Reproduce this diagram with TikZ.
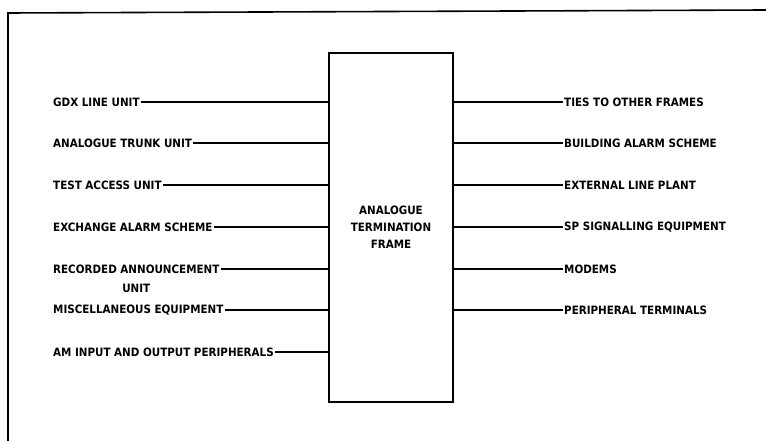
\documentclass[tikz,border=0pt]{standalone}
\usepackage{fontspec}
\setmainfont{DejaVu Sans Condensed}
\usetikzlibrary{positioning}
\tikzset{
  lbl/.style={inner sep=1pt, font=\fontsize{11.5}{14}\selectfont\bfseries},
  lead/.style={line width=1.2pt},
}
\begin{document}
\begin{tikzpicture}[x=1pt,y=-1pt]
        \useasboundingbox (0,0) rectangle (766,441);
        % outer frame, open at right and bottom
        \draw [line width=1.6pt] (8,441) -- (8,13) -- (766,10);
        \node [draw, line width=1.4pt, minimum width=124pt, minimum height=349pt, inner sep=0pt] (atf) at (391,227.5) {};
        \node [lbl, align=center, font=\fontsize{11.5}{17}\selectfont\bfseries] (atftxt) at (atf.center) {ANALOGUE\\TERMINATION\\FRAME};
        % left side
        \node [lbl, anchor=west] (gdx) at (52,102) {GDX LINE UNIT};
        \node [lbl, anchor=west] (atu) at (52,143) {ANALOGUE TRUNK UNIT};
        \node [lbl, anchor=west] (tau) at (52,185) {TEST ACCESS UNIT};
        \node [lbl, anchor=west] (eas) at (52,227) {EXCHANGE ALARM SCHEME};
        \node [lbl, anchor=west] (rau) at (52,269) {RECORDED ANNOUNCEMENT};
        \node [lbl, below=8pt of rau] (rau2) {UNIT};
        \node [lbl, anchor=west] (mse) at (52,310) {MISCELLANEOUS EQUIPMENT};
        \node [lbl, anchor=west] (amp) at (52,352) {AM INPUT AND OUTPUT PERIPHERALS};
        \foreach \n in {gdx,atu,tau,eas,rau,mse,amp}
          \draw [lead] (\n.east) -- (\n.east -| atf.west);
        % right side
        \node [lbl, anchor=west] (tof) at (563,102) {TIES TO OTHER FRAMES};
        \node [lbl, anchor=west] (bas) at (563,143) {BUILDING ALARM SCHEME};
        \node [lbl, anchor=west] (elp) at (563,185) {EXTERNAL LINE PLANT};
        \node [lbl, anchor=west] (spe) at (563,227) {SP SIGNALLING EQUIPMENT};
        \node [lbl, anchor=west] (mod) at (563,269) {MODEMS};
        \node [lbl, anchor=west] (pte) at (563,310) {PERIPHERAL TERMINALS};
        \foreach \n in {tof,bas,elp,spe,mod,pte}
          \draw [lead] (\n.west -| atf.east) -- (\n.west);
      \end{tikzpicture}
\end{document}
